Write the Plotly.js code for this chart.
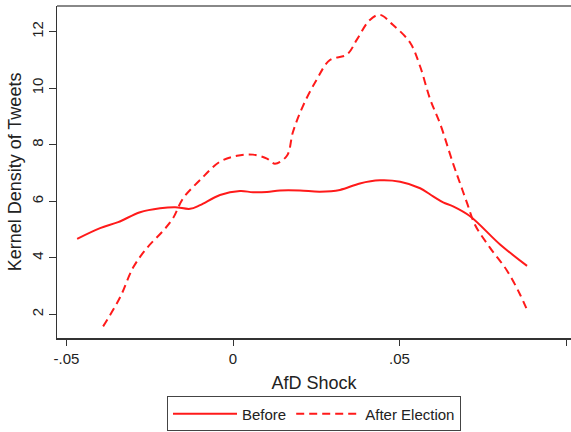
<!DOCTYPE html>
<html>
<head>
<meta charset="utf-8">
<script src="https://cdn.plot.ly/plotly-3.0.1.min.js"></script>
<style>html,body{margin:0;padding:0;background:#fff;}#chart{width:571px;height:432px;}</style>
</head>
<body>
<div id="chart"></div>
<script>
// AfD shock (x) and kernel density (y)
var beforeX = [-0.0468, -0.0399, -0.0345, -0.0279, -0.0219, -0.0174, -0.0129, -0.0099, -0.0039, 0.0021, 0.0060, 0.0102, 0.0141, 0.0201, 0.0261, 0.0321, 0.0381, 0.0441, 0.0502, 0.0562, 0.0601, 0.0631, 0.0661, 0.0712, 0.0802, 0.0883];
var beforeY = [4.67, 5.05, 5.26, 5.61, 5.75, 5.79, 5.73, 5.86, 6.22, 6.36, 6.32, 6.33, 6.38, 6.38, 6.34, 6.40, 6.63, 6.74, 6.69, 6.46, 6.17, 5.96, 5.82, 5.47, 4.47, 3.71];

var afterX = [-0.0390, -0.0339, -0.0300, -0.0258, -0.0210, -0.0180, -0.0150, -0.0099, -0.0039, 0.0012, 0.0060, 0.0102, 0.0126, 0.0162, 0.0180, 0.0210, 0.0252, 0.0291, 0.0342, 0.0372, 0.0411, 0.0441, 0.0480, 0.0532, 0.0562, 0.0592, 0.0622, 0.0661, 0.0682, 0.0703, 0.0727, 0.0772, 0.0823, 0.0862, 0.0886];
var afterY = [1.57, 2.60, 3.65, 4.35, 4.95, 5.40, 6.10, 6.75, 7.40, 7.61, 7.65, 7.51, 7.33, 7.61, 8.45, 9.37, 10.32, 11.00, 11.19, 11.72, 12.42, 12.60, 12.25, 11.61, 10.77, 9.61, 8.74, 7.33, 6.63, 5.93, 5.16, 4.35, 3.54, 2.70, 2.07];

var seriesNames = ["Before", "After Election"];
var xTickVals = [-0.05, 0, 0.05, 0.1];
var xTickText = ["-.05", "0", ".05", ".1"];
var yTickVals = [2, 4, 6, 8, 10, 12];
var yTickText = ["2", "4", "6", "8", "10", "12"];

var red = "#ff1a1a";
var traces = [
  {x: beforeX, y: beforeY, name: seriesNames[0], type: "scatter", mode: "lines",
   line: {color: red, width: 2, shape: "spline", smoothing: 1}},
  {x: afterX, y: afterY, name: seriesNames[1], type: "scatter", mode: "lines",
   line: {color: red, width: 2, shape: "spline", smoothing: 1, dash: "8px,5px"}}
];

var font = "Liberation Sans, Arial, sans-serif";
var layout = {
  width: 571, height: 432,
  margin: {l: 57, r: 0, t: 6, b: 91},
  paper_bgcolor: "#fff", plot_bgcolor: "#fff",
  font: {family: font, color: "#222"},
  showlegend: true,
  xaxis: {
    range: [-0.05285, 0.1015], showgrid: false, zeroline: false,
    showline: true, linecolor: "#333", linewidth: 1.5,
    ticks: "outside", ticklen: 6, tickcolor: "#333", tickwidth: 1,
    tickvals: xTickVals, ticktext: xTickText,
    tickfont: {size: 15, family: font, color: "#222"},
    title: {text: "AfD Shock", font: {size: 18, family: font, color: "#222"}, standoff: 11}
  },
  yaxis: {
    range: [1.158, 12.912], showgrid: false, zeroline: false,
    showline: true, linecolor: "#333", linewidth: 1.5,
    ticks: "outside", ticklen: 7, tickcolor: "#333", tickwidth: 1,
    tickvals: yTickVals, ticktext: yTickText, tickangle: -90,
    tickfont: {size: 15, family: font, color: "#222"},
    title: {text: "Kernel Density of Tweets", font: {size: 18, family: font, color: "#222"}, standoff: 2}
  },
  legend: {
    orientation: "h", x: 0.5, xanchor: "center", y: -0.176, yanchor: "top",
    bordercolor: "#444", borderwidth: 1, bgcolor: "#fff",
    font: {size: 15, family: font, color: "#222"},
    itemwidth: 64
  },
  shapes: [
    {type: "line", xref: "paper", yref: "paper", x0: 0, x1: 1, y0: 1, y1: 1,
     line: {color: "#888", width: 2}}
  ]
};

Plotly.newPlot("chart", traces, layout, {displayModeBar: false, staticPlot: true});
</script>
</body>
</html>
